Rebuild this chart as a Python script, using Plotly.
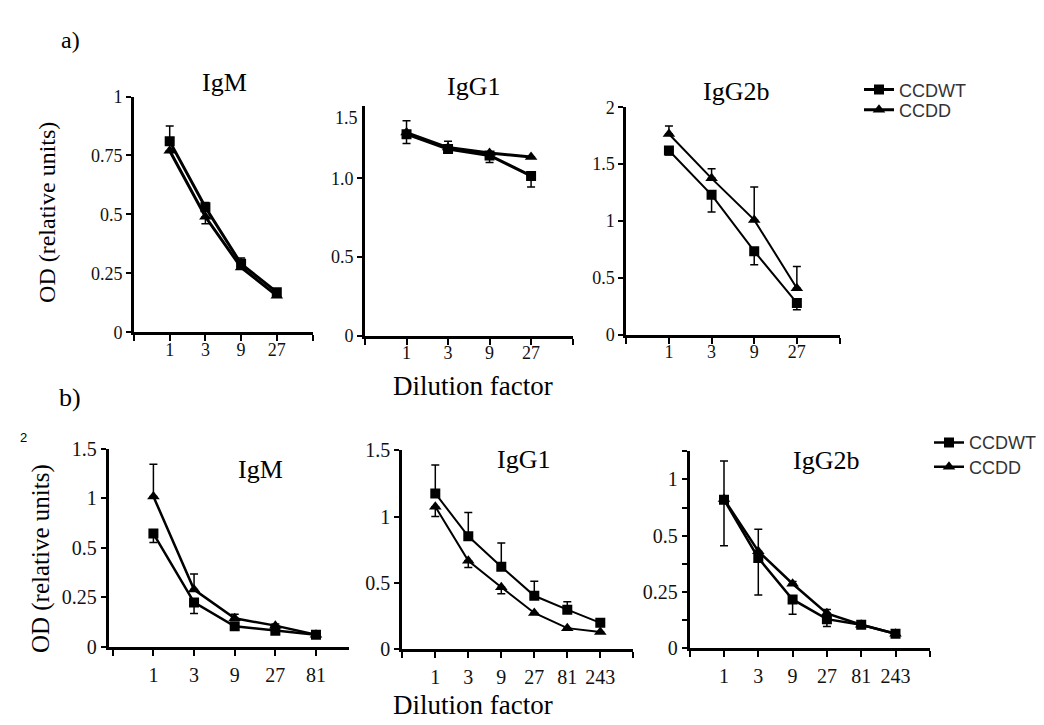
import numpy as np
import plotly.graph_objects as go

W, H = 1044, 725

# ---------------- data ----------------
dil_a = ['1', '3', '9', '27']
dil_b_igm = ['1', '3', '9', '27', '81']
dil_b = ['1', '3', '9', '27', '81', '243']

# a) IgM
a_igm_wt = [0.81, 0.53, 0.29, 0.17]
a_igm_wt_up = [0.065, 0.02, 0.025, 0.0]
a_igm_wt_dn = [0.0, 0.0, 0.0, 0.0]
a_igm_dd = [0.77, 0.49, 0.275, 0.155]
a_igm_dd_up = [0.0, 0.0, 0.0, 0.0]
a_igm_dd_dn = [0.0, 0.03, 0.0, 0.0]
# a) IgG1
a_igg1_wt = [1.28, 1.185, 1.145, 1.015]
a_igg1_wt_up = [0.085, 0.05, 0.0, 0.0]
a_igg1_wt_dn = [0.0, 0.0, 0.0, 0.07]
a_igg1_dd = [1.29, 1.195, 1.16, 1.135]
a_igg1_dd_up = [0.0, 0.0, 0.0, 0.0]
a_igg1_dd_dn = [0.07, 0.0, 0.06, 0.0]
# a) IgG2b
a_igg2b_wt = [1.62, 1.23, 0.735, 0.28]
a_igg2b_wt_up = [0.0, 0.0, 0.0, 0.0]
a_igg2b_wt_dn = [0.04, 0.15, 0.12, 0.06]
a_igg2b_dd = [1.765, 1.375, 1.01, 0.41]
a_igg2b_dd_up = [0.07, 0.085, 0.29, 0.19]
a_igg2b_dd_dn = [0.0, 0.0, 0.0, 0.0]

# b) IgM
b_igm_wt = [0.645, 0.225, 0.105, 0.082, 0.062]
b_igm_wt_up = [0.0, 0.0, 0.0, 0.0, 0.0]
b_igm_wt_dn = [0.09, 0.056, 0.01, 0.008, 0.0]
b_igm_dd = [1.02, 0.29, 0.145, 0.108, 0.062]
b_igm_dd_up = [0.325, 0.078, 0.02, 0.008, 0.0]
b_igm_dd_dn = [0.0, 0.0, 0.0, 0.0, 0.0]
# b) IgG1
b_igg1_wt = [1.175, 0.85, 0.62, 0.40, 0.295, 0.195]
b_igg1_wt_up = [0.215, 0.18, 0.18, 0.11, 0.06, 0.0]
b_igg1_wt_dn = [0.0, 0.0, 0.0, 0.0, 0.0, 0.0]
b_igg1_dd = [1.075, 0.665, 0.465, 0.27, 0.155, 0.125]
b_igg1_dd_up = [0.0, 0.0, 0.0, 0.0, 0.0, 0.0]
b_igg1_dd_dn = [0.075, 0.05, 0.05, 0.0, 0.0, 0.0]
# b) IgG2b
b_igg2b_wt = [0.82, 0.40, 0.215, 0.127, 0.102, 0.062]
b_igg2b_wt_up = [0.345, 0.0, 0.0, 0.0, 0.0, 0.0]
b_igg2b_wt_dn = [0.0, 0.165, 0.066, 0.033, 0.0, 0.0]
b_igg2b_dd = [0.825, 0.43, 0.285, 0.153, 0.102, 0.062]
b_igg2b_dd_up = [0.0, 0.127, 0.01, 0.017, 0.0, 0.0]
b_igg2b_dd_dn = [0.37, 0.0, 0.0, 0.0, 0.0, 0.0]

# y tick labels
ticks_a_igm = ['0', '0.25', '0.5', '0.75', '1']
ticks_a_igg1 = ['0', '0.5', '1.0']
ticks_a_igg2b = ['0', '0.5', '1', '1.5', '2']
ticks_b_igm = ['0', '0.25', '0.5', '1', '1.5']
ticks_b_igg1 = ['0', '0.5', '1', '1.5']
ticks_b_igg2b = ['0', '0.25', '0.5', '1']

series_names = ['CCDWT', 'CCDD']

# ---------------- helpers ----------------
def fx(px):
    return px / W

def fy(py):
    return 1 - py / H

identity = lambda v: np.asarray(v, dtype=float)

def piecewise(levels):
    # axis whose labelled ticks are evenly spaced although their values are not
    lv = np.array(levels, dtype=float)
    pos = np.arange(len(lv), dtype=float)
    return lambda v: np.interp(np.asarray(v, dtype=float), lv, pos)

serif = 'Liberation Serif'
sans = 'Liberation Sans'

panels = [
    dict(title='IgM', cats=dil_a, wt=(a_igm_wt, a_igm_wt_up, a_igm_wt_dn),
         dd=(a_igm_dd, a_igm_dd_up, a_igm_dd_dn), scale=identity,
         xdom=(126, 304.5), xr=(0, 5), ydom=(80, 323), yr=(0, 1),
         ytv=[0, 0.25, 0.5, 0.75, 1], ytt=ticks_a_igm, lw=3, fs=18, xso=-7,
         legends=('legend', 'legend3')),
    dict(title='IgG1', cats=dil_a, wt=(a_igg1_wt, a_igg1_wt_up, a_igg1_wt_dn),
         dd=(a_igg1_dd, a_igg1_dd_up, a_igg1_dd_dn), scale=identity,
         xdom=(357, 564.6), xr=(0, 5), ydom=(90, 326.7), yr=(0, 1.457),
         ytv=[0, 0.5, 1.0], ytt=ticks_a_igg1, lw=3, fs=18, xso=-7, legends=None),
    dict(title='IgG2b', cats=dil_a, wt=(a_igg2b_wt, a_igg2b_wt_up, a_igg2b_wt_dn),
         dd=(a_igg2b_dd, a_igg2b_dd_up, a_igg2b_dd_dn), scale=identity,
         xdom=(618.3, 831.5), xr=(0, 5), ydom=(91, 325.7), yr=(0, 2),
         ytv=[0, 0.5, 1, 1.5, 2], ytt=ticks_a_igg2b, lw=2, fs=18, xso=-7, legends=None),
    dict(title='IgM', cats=dil_b_igm, wt=(b_igm_wt, b_igm_wt_up, b_igm_wt_dn),
         dd=(b_igm_dd, b_igm_dd_up, b_igm_dd_dn), scale=piecewise([0, 0.25, 0.5, 1, 1.5]),
         xdom=(100.7, 340.5), xr=(-0.1, 5.8), ydom=(443.3, 647.7), yr=(0, 4),
         ytv=[0, 1, 2, 3, 4], ytt=ticks_b_igm, lw=2.5, fs=20, xso=2,
         legends=('legend2', 'legend4')),
    dict(title='IgG1', cats=dil_b, wt=(b_igg1_wt, b_igg1_wt_up, b_igg1_wt_dn),
         dd=(b_igg1_dd, b_igg1_dd_up, b_igg1_dd_dn), scale=identity,
         xdom=(394.3, 625.3), xr=(0, 7), ydom=(445, 649.3), yr=(0, 1.5),
         ytv=[0, 0.5, 1, 1.5], ytt=ticks_b_igg1, lw=2, fs=20, xso=2, legends=None),
    dict(title='IgG2b', cats=dil_b, wt=(b_igg2b_wt, b_igg2b_wt_up, b_igg2b_wt_dn),
         dd=(b_igg2b_dd, b_igg2b_dd_up, b_igg2b_dd_dn),
         scale=piecewise([0, 0.25, 0.5, 1, 1.5]),
         xdom=(681.7, 921.8), xr=(0, 7), ydom=(446, 648.3), yr=(0, 3.5),
         ytv=[0, 0.5, 1, 1.5, 2, 2.5, 3, 3.5],
         ytt=[ticks_b_igg2b[0], '', ticks_b_igg2b[1], '', ticks_b_igg2b[2], '', ticks_b_igg2b[3], ''],
         lw=2.5, fs=20, xso=2, legends=None),
]

fig = go.Figure()
layout = {}
for i, p in enumerate(panels):
    k = '' if i == 0 else str(i + 1)
    xa, ya = 'x' + k, 'y' + k
    n = len(p['cats'])
    xs = list(range(1, n + 1))
    f = p['scale']
    for j, (name, (vals, up, dn), sym, msize) in enumerate([
        (series_names[0], p['wt'], 'square', 10),
        (series_names[1], p['dd'], 'triangle-up', 11),
    ]):
        v = np.asarray(vals, dtype=float)
        pos = f(v)
        eu = f(v + np.asarray(up, dtype=float)) - pos
        ed = pos - f(v - np.asarray(dn, dtype=float))
        tr = dict(
            x=xs, y=pos, xaxis=xa, yaxis=ya, name=name,
            mode='lines+markers',
            line=dict(color='black', width=p['lw']),
            marker=dict(symbol=sym, size=msize, color='black'),
            error_y=dict(type='data', symmetric=False, array=eu, arrayminus=ed,
                         color='black', thickness=1.5, width=4),
            showlegend=p['legends'] is not None,
            hoverinfo='skip',
        )
        if p['legends']:
            tr['legend'] = p['legends'][j]
        fig.add_trace(go.Scatter(**tr))
    xtv = list(range(int(np.ceil(p['xr'][0])), int(np.floor(p['xr'][1])) + 1))
    xtt = [p['cats'][t - 1] if 1 <= t <= n else '' for t in xtv]
    layout['xaxis' + k] = dict(
        domain=[fx(p['xdom'][0]), fx(p['xdom'][1])], range=list(p['xr']),
        anchor=ya, showline=True, linecolor='black', linewidth=3,
        ticks='outside', ticklen=6, tickwidth=2, tickcolor='black',
        tickmode='array', tickvals=xtv, ticktext=xtt,
        tickfont=dict(family=serif, size=p['fs'], color='#111'),
        showgrid=False, zeroline=False, fixedrange=True,
        ticklabelstandoff=p['xso'],
    )
    layout['yaxis' + k] = dict(
        domain=[fy(p['ydom'][1]), fy(p['ydom'][0])], range=list(p['yr']),
        anchor=xa, showline=True, linecolor='black', linewidth=3,
        ticks='outside', ticklen=5, tickwidth=2, tickcolor='black',
        tickmode='array', tickvals=p['ytv'], ticktext=p['ytt'],
        tickfont=dict(family=serif, size=p['fs'], color='#111'),
        showgrid=False, zeroline=False, fixedrange=True,
    )

def ann(text, x, y, size, family=serif, **kw):
    d = dict(text=text, x=fx(x), y=fy(y), xref='paper', yref='paper',
             showarrow=False, font=dict(family=family, size=size, color='black'),
             xanchor='center', yanchor='middle')
    d.update(kw)
    return d

annotations = [
    ann('a)', 62, 22, 24),
    ann('b)', 62, 390, 26),
    ann('IgM', 216, 66, 26),
    ann('IgG1', 465, 70, 26),
    ann('IgG2b', 728, 75, 26),
    ann('IgM', 252, 465, 26),
    ann('IgG1', 515, 454, 26),
    ann('IgG2b', 818, 455, 26),
    ann('Dilution factor', 465, 378, 27),
    ann('Dilution factor', 465, 707, 27),
    ann('OD (relative units)', 39, 200, 24, textangle=-90),
    ann('OD (relative units)', 33, 557, 25, textangle=-90),
    ann('1.5', 352, 101.7, 18, xanchor='right', font=dict(family=serif, size=18, color='#111')),
    ann('2', 15, 432, 13, family=sans),
]

def leg(x, y):
    return dict(x=fx(x), y=fy(y), xanchor='left', yanchor='middle',
                font=dict(family=sans, size=18, color='#333'),
                bgcolor='rgba(0,0,0,0)', borderwidth=0,
                itemclick=False, itemdoubleclick=False)

layout.update(
    width=W, height=H, autosize=False,
    margin=dict(l=0, r=0, t=0, b=0),
    paper_bgcolor='white', plot_bgcolor='white',
    annotations=annotations,
    legend=leg(851, 73),
    legend3=leg(851, 94),
    legend2=leg(921, 437),
    legend4=leg(921, 462),
)
fig.update_layout(**layout)
fig.write_html('out.html')
